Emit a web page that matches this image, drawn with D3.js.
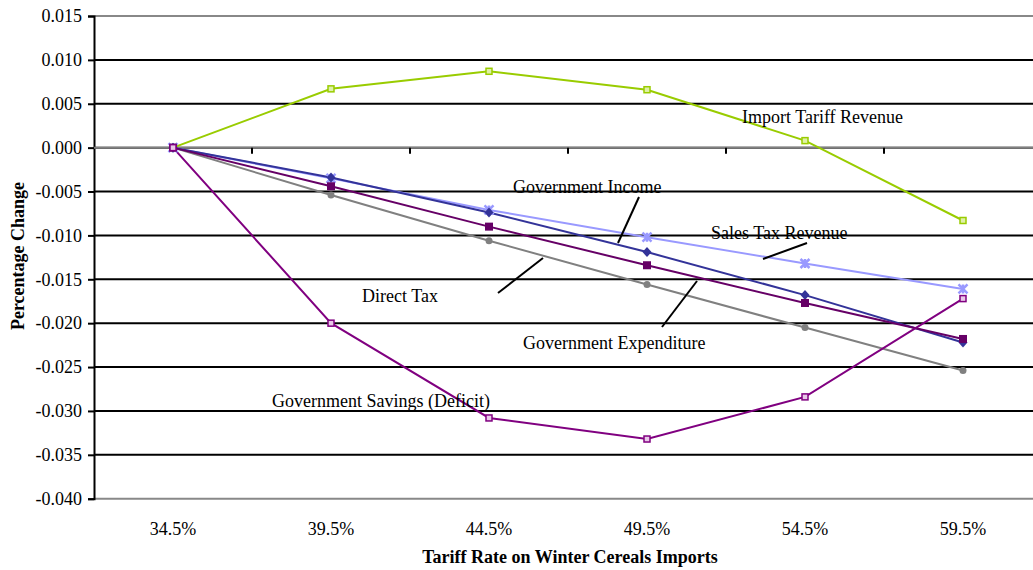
<!DOCTYPE html>
<html>
<head>
<meta charset="utf-8">
<script src="https://cdn.jsdelivr.net/npm/d3@7/dist/d3.min.js"></script>
<style>
  html, body { margin: 0; padding: 0; background: #fff; }
  svg { display: block; }
  text { font-family: "Liberation Serif", "Times New Roman", serif; fill: #000; }
</style>
</head>
<body>
<svg id="chart" width="1033" height="570"></svg>
<script>
// ---------- DATA ----------
const categories = ["34.5%", "39.5%", "44.5%", "49.5%", "54.5%", "59.5%"];
const yTicks = [0.015, 0.010, 0.005, 0.000, -0.005, -0.010, -0.015, -0.020, -0.025, -0.030, -0.035, -0.040];

const importTariffRevenue = [0, 0.0067, 0.0087, 0.0066, 0.0008, -0.0083];
const salesTaxRevenue     = [0, -0.0035, -0.0071, -0.0102, -0.0132, -0.0161];
const directTax           = [0, -0.0054, -0.0106, -0.0156, -0.0205, -0.0254];
const governmentIncome    = [0, -0.0034, -0.0074, -0.0119, -0.0168, -0.0222];
const governmentExpend    = [0, -0.0044, -0.0090, -0.0134, -0.0177, -0.0218];
const governmentSavings   = [0, -0.0200, -0.0308, -0.0332, -0.0284, -0.0172];

const seriesNames = ["Import Tariff Revenue", "Sales Tax Revenue", "Direct Tax",
                     "Government Income", "Government Expenditure", "Government Savings (Deficit)"];

// ---------- STYLE ----------
const series = [
  { name: seriesNames[0], values: importTariffRevenue, color: "#99CC00", marker: "hsquare", fill: "#dff0a8" },
  { name: seriesNames[1], values: salesTaxRevenue,     color: "#9999FF", marker: "star" },
  { name: seriesNames[2], values: directTax,           color: "#808080", marker: "circle" },
  { name: seriesNames[3], values: governmentIncome,    color: "#333399", marker: "diamond" },
  { name: seriesNames[4], values: governmentExpend,    color: "#660066", marker: "square" },
  { name: seriesNames[5], values: governmentSavings,   color: "#800080", marker: "hsquare", fill: "#e8c8e8" }
];

const plot = { left: 94, right: 1042, top: 16, bottom: 498.7 };

const svg = d3.select("#chart");
const x = d3.scaleBand().domain(categories).range([plot.left, plot.right]).padding(0);
const y = d3.scaleLinear().domain([-0.040, 0.015]).range([plot.bottom, plot.top]);
const cx = c => x(c) + x.bandwidth() / 2;

const locale = d3.formatLocale({ decimal: ".", thousands: ",", grouping: [3], currency: ["", ""], minus: "-" });
const fmt = locale.format(".3f");

// gridlines
svg.append("g").selectAll("line").data(yTicks).join("line")
  .attr("x1", plot.left).attr("x2", plot.right)
  .attr("y1", d => y(d)).attr("y2", d => y(d))
  .attr("stroke", d => (d === 0.015 || d === -0.040) ? "#888" : "#000")
  .attr("stroke-width", 2);

// y axis
const yAxis = d3.axisLeft(y).tickValues(yTicks).tickFormat(fmt).tickSize(6).tickPadding(6);
const gy = svg.append("g").attr("transform", `translate(${plot.left},0)`).call(yAxis);
gy.attr("font-family", null).attr("font-size", null);
gy.select(".domain").attr("stroke", "#000").attr("stroke-width", 2);
gy.selectAll(".tick line").attr("stroke", "#000").attr("stroke-width", 2);
gy.selectAll(".tick text").style("font-family", '"Liberation Serif", serif').style("font-size", "18px").attr("fill", "#000");

// x axis at zero
const gx = svg.append("g").attr("transform", `translate(0,${y(0)})`);
gx.append("line").attr("x1", plot.left).attr("x2", plot.right).attr("y1", 0).attr("y2", 0)
  .attr("stroke", "#808080").attr("stroke-width", 2);
gx.selectAll("line.tk").data(categories.slice(1)).join("line").attr("class", "tk")
  .attr("x1", d => x(d)).attr("x2", d => x(d)).attr("y1", 0).attr("y2", 6)
  .attr("stroke", "#000").attr("stroke-width", 2);

// category labels below plot
svg.append("g").selectAll("text").data(categories).join("text")
  .attr("x", d => cx(d)).attr("y", 535)
  .attr("text-anchor", "middle").style("font-size", "18px").text(d => d);

// axis titles
svg.append("text").attr("x", 570).attr("y", 563).attr("text-anchor", "middle")
  .style("font-size", "18px").style("font-weight", "bold").text("Tariff Rate on Winter Cereals Imports");
svg.append("text").attr("transform", "translate(24,256) rotate(-90)").attr("text-anchor", "middle")
  .style("font-size", "18px").style("font-weight", "bold").text("Percentage Change");

// lines
const line = d3.line().x((d, i) => cx(categories[i])).y(d => y(d));
const gs = svg.append("g");
series.forEach(s => {
  gs.append("path").datum(s.values).attr("d", line)
    .attr("fill", "none").attr("stroke", s.color).attr("stroke-width", 2);
});

// markers
series.forEach(s => {
  const g = gs.append("g");
  s.values.forEach((v, i) => {
    const px = cx(categories[i]), py = y(v);
    if (s.marker === "square") {
      g.append("rect").attr("x", px - 4).attr("y", py - 4).attr("width", 8).attr("height", 8).attr("fill", s.color);
    } else if (s.marker === "hsquare") {
      g.append("rect").attr("x", px - 3).attr("y", py - 3).attr("width", 6).attr("height", 6)
        .attr("fill", s.fill).attr("stroke", s.color).attr("stroke-width", 1.5);
    } else if (s.marker === "circle") {
      g.append("circle").attr("cx", px).attr("cy", py).attr("r", 3.5).attr("fill", s.color);
    } else if (s.marker === "diamond") {
      g.append("path").attr("d", `M${px},${py-5}L${px+4.5},${py}L${px},${py+5}L${px-4.5},${py}Z`).attr("fill", s.color);
    } else if (s.marker === "star") {
      const r = 4.5;
      g.append("path").attr("d", `M${px-r},${py-r}L${px+r},${py+r}M${px-r},${py+r}L${px+r},${py-r}M${px},${py-r}L${px},${py+r}`)
        .attr("stroke", s.color).attr("stroke-width", 2.5).attr("fill", "none");
    }
  });
});

// annotations (label text and leader lines)
const labels = [
  { text: seriesNames[0], x: 742, y: 123 },
  { text: seriesNames[3], x: 513, y: 193 },
  { text: seriesNames[1], x: 711, y: 239 },
  { text: seriesNames[2], x: 362, y: 302 },
  { text: seriesNames[4], x: 523, y: 349 },
  { text: seriesNames[5], x: 272, y: 407 }
];
svg.append("g").selectAll("text").data(labels).join("text")
  .attr("x", d => d.x).attr("y", d => d.y).style("font-size", "18px").text(d => d.text);

const leaders = [
  [618, 243, 639, 197],
  [498, 293, 543, 258],
  [662, 327, 697, 281],
  [763, 259, 807, 243]
];
svg.append("g").selectAll("line").data(leaders).join("line")
  .attr("x1", d => d[0]).attr("y1", d => d[1]).attr("x2", d => d[2]).attr("y2", d => d[3])
  .attr("stroke", "#000").attr("stroke-width", 2);
</script>
</body>
</html>
